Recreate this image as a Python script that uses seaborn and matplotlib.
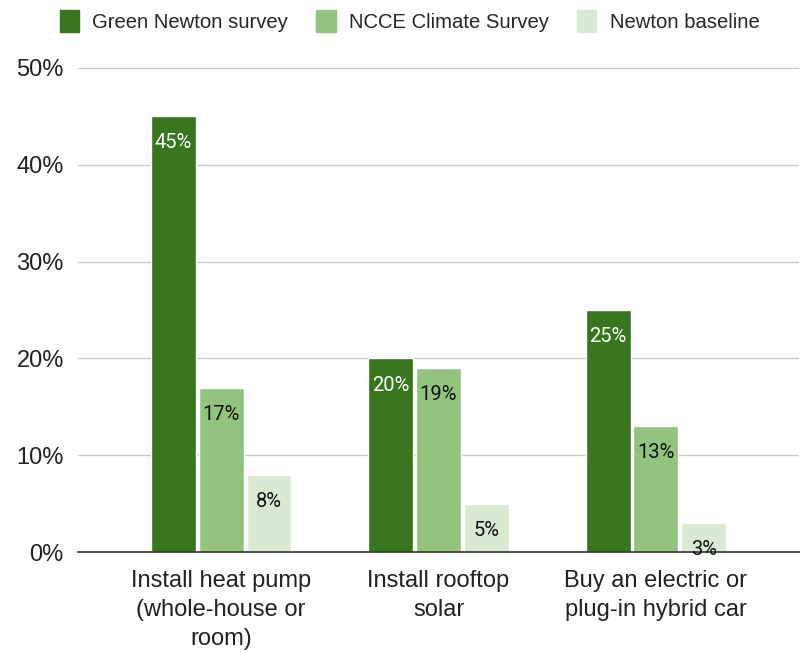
import numpy as np
import matplotlib.pyplot as plt
import pandas as pd
import seaborn as sns

actions = ['Install heat pump\n(whole-house or\nroom)', 'Install rooftop\nsolar', 'Buy an electric or\nplug-in hybrid car']
series = ['Green Newton survey', 'NCCE Climate Survey', 'Newton baseline']
green_newton = [45, 20, 25]
ncce = [17, 19, 13]
baseline = [8, 5, 3]
colors = ['#38761d', '#93c47d', '#d9ead3']

data = pd.DataFrame({
    'action': actions * 3,
    'survey': [s for s in series for _ in actions],
    'pct': green_newton + ncce + baseline,
})

sns.set_style('white')
plt.rcParams['font.family'] = ['Liberation Sans', 'DejaVu Sans']

fig = plt.figure(figsize=(8.01, 6.52), dpi=100)
ax = fig.add_axes([0.097, 0.153, 0.901, 0.743])

sns.barplot(data=data, x='action', y='pct', hue='survey', palette=colors,
            width=0.66, gap=0.06, ax=ax, legend=False, saturation=1)

ax.set_ylim(0, 50)
ax.set_xlim(-0.66, 2.66)
ax.set_yticks(np.arange(0, 51, 10))
ax.set_yticklabels([f'{v}%' for v in range(0, 51, 10)], fontsize=17, color='#222222')
ax.tick_params(axis='x', labelsize=17, colors='#222222', length=0, pad=13)
ax.tick_params(axis='y', length=0, pad=10)
for lab in ax.get_xticklabels():
    lab.set_linespacing(1.4)
ax.set_xlabel('')
ax.set_ylabel('')
ax.yaxis.grid(True, color='#cccccc', linewidth=1)
ax.set_axisbelow(True)
for s in ['left', 'right', 'top']:
    ax.spines[s].set_visible(False)
ax.spines['bottom'].set_color('#333333')
ax.spines['bottom'].set_linewidth(1.2)

# data labels inside the bar tops
for i, cont in enumerate(ax.containers):
    txt_color = 'white' if i == 0 else '#111111'
    ax.bar_label(cont, labels=[f'{v:.0f}%' for v in cont.datavalues], label_type='edge',
                 padding=-26, color=txt_color, fontsize=14.5, family='Roboto')

handles = [plt.Rectangle((0, 0), 1, 1, color=c) for c in colors]
fig.legend(handles, series, loc='upper left', bbox_to_anchor=(0.052, 1.012), ncol=3,
           frameon=False, fontsize=14.6, handlelength=0.95, handleheight=1.25,
           columnspacing=1.4, handletextpad=0.65)

fig.savefig('out.png', dpi=100)
